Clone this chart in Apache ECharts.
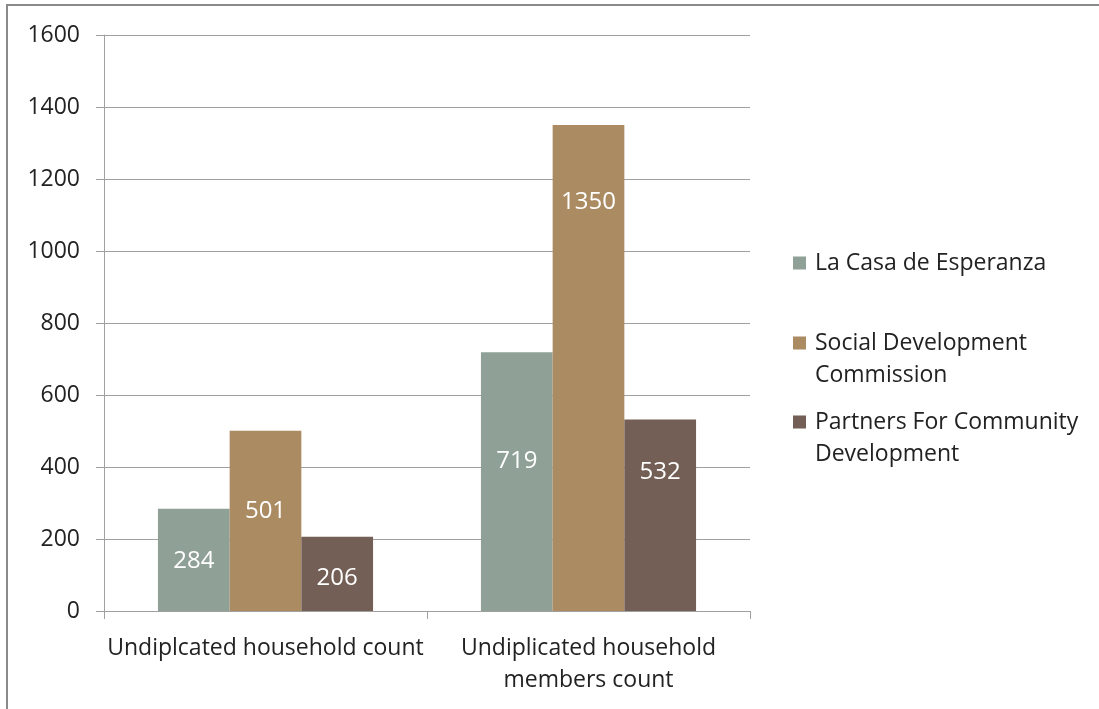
<!DOCTYPE html>
<html><head><meta charset="utf-8">
<script src="https://cdn.jsdelivr.net/npm/echarts@6/dist/echarts.min.js"></script>
<style>html,body{margin:0;padding:0;background:#fff}#c{width:1099px;height:709px}</style>
</head><body><div id="c"></div>
<script>
const categories = ['Undiplcated household count', 'Undiplicated household\nmembers count'];
const seriesNames = ['La Casa de Esperanza', 'Social Development Commission', 'Partners For Community Development'];
const casaValues = [284, 719];
const socialValues = [501, 1350];
const partnersValues = [206, 532];
const yTicks = [0, 200, 400, 600, 800, 1000, 1200, 1400, 1600];

const colors = ['#8fa096', '#ab8c62', '#735f55'];
const legendLabels = ['La Casa de Esperanza', 'Social Development\nCommission', 'Partners For Community\nDevelopment'];
const labelShift = [[1, -20], [-10, -166], [4, -43]];
const FONT = 'Open Sans';
const FS = 23;

const chart = echarts.init(document.getElementById('c'), null, {renderer: 'canvas'});
const allData = [casaValues, socialValues, partnersValues];
const series = allData.map((vals, si) => ({
  name: seriesNames[si],
  type: 'bar',
  barGap: '0%',
  barCategoryGap: '33.4%',
  itemStyle: {color: colors[si]},
  data: vals.map((v, i) => ({
    value: v,
    label: {offset: [0, labelShift[si][i]]}
  })),
  label: {show: true, position: 'inside', color: '#fff', fontFamily: FONT, fontSize: 24}
}));
const legendTops = [247, 327, 406];
const tallIcon = 'path://M0,0h13v13h-13z M0,44.99h0.01v0.01h-0.01z';
chart.setOption({
  animation: false,
  graphic: [{
    type: 'rect', shape: {x: 7, y: 5, width: 1200, height: 800},
    style: {fill: 'none', stroke: '#8a8a8a', lineWidth: 2}
  }],
  legend: seriesNames.map((n, i) => {
    const multi = legendLabels[i].indexOf('\n') >= 0;
    return {
      data: [n], left: 793, top: legendTops[i], orient: 'vertical', padding: 0,
      icon: multi ? tallIcon : 'rect', itemWidth: 13, itemHeight: multi ? 45 : 13,
      formatter: () => legendLabels[i],
      textStyle: {fontFamily: FONT, fontSize: FS, color: '#222', lineHeight: 32, padding: [0, 0, 0, 4]}
    };
  }),
  grid: {left: 104, right: 349, top: 35, bottom: 98, containLabel: false},
  xAxis: {
    type: 'category', data: categories,
    axisLine: {lineStyle: {color: '#a0a0a0'}},
    axisTick: {show: true, length: 8, lineStyle: {color: '#a0a0a0'}},
    axisLabel: {fontFamily: FONT, fontSize: FS, color: '#222', lineHeight: 32, margin: 21, interval: 0}
  },
  yAxis: {
    type: 'value', min: yTicks[0], max: yTicks[yTicks.length - 1], interval: 200,
    axisLine: {show: true, lineStyle: {color: '#a0a0a0'}},
    axisTick: {show: true, length: 8, lineStyle: {color: '#a0a0a0'}},
    splitLine: {lineStyle: {color: '#a0a0a0'}},
    axisLabel: {fontFamily: FONT, fontSize: FS, color: '#222', margin: 24, formatter: v => String(v)}
  },
  series
});
</script></body></html>
